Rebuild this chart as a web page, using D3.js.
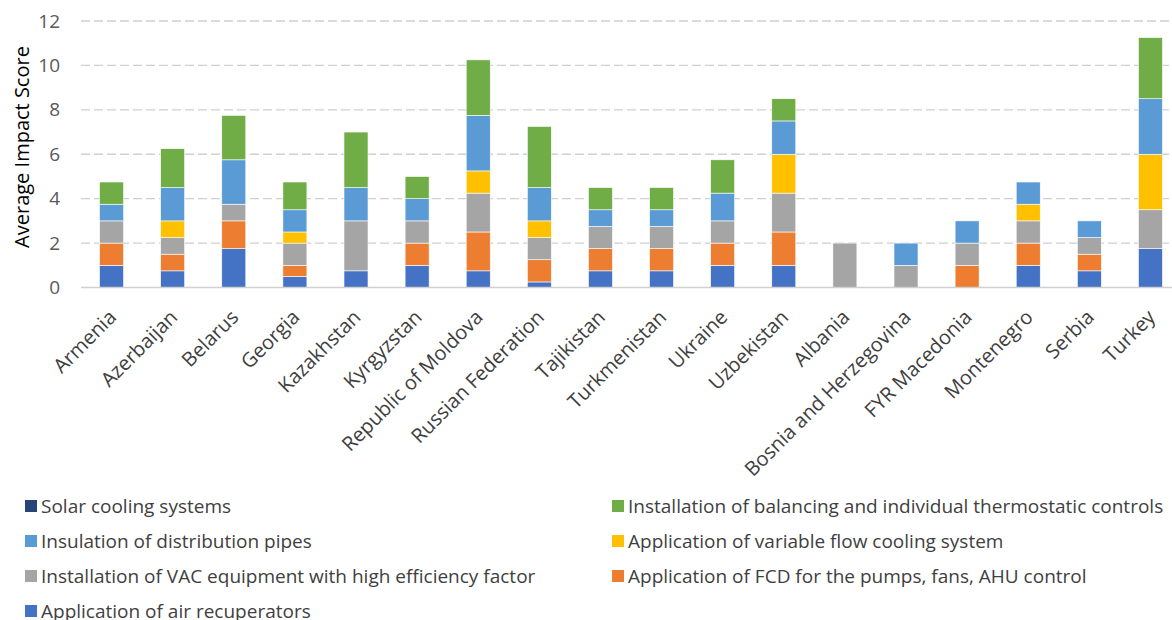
<!DOCTYPE html>
<html>
<head>
<meta charset="utf-8">
<script src="https://cdn.jsdelivr.net/npm/d3@7"></script>
<style>
  body { margin: 0; background: #fff; font-family: "Open Sans", sans-serif; }
</style>
</head>
<body>
<script>
// stacked impact scores per country
var countries = ['Armenia', 'Azerbaijan', 'Belarus', 'Georgia', 'Kazakhstan', 'Kyrgyzstan',
  'Republic of Moldova', 'Russian Federation', 'Tajikistan', 'Turkmenistan', 'Ukraine',
  'Uzbekistan', 'Albania', 'Bosnia and Herzegovina', 'FYR Macedonia', 'Montenegro', 'Serbia', 'Turkey'];

var airRecuperators = [1, 0.75, 1.75, 0.5, 0.75, 1, 0.75, 0.25, 0.75, 0.75, 1, 1, 0, 0, 0, 1, 0.75, 1.75];
var fcdControl      = [1, 0.75, 1.25, 0.5, 0, 1, 1.75, 1, 1, 1, 1, 1.5, 0, 0, 1, 1, 0.75, 0];
var vacEquipment    = [1, 0.75, 0.75, 1, 2.25, 1, 1.75, 1, 1, 1, 1, 1.75, 2, 1, 1, 1, 0.75, 1.75];
var variableFlow    = [0, 0.75, 0, 0.5, 0, 0, 1, 0.75, 0, 0, 0, 1.75, 0, 0, 0, 0.75, 0, 2.5];
var pipeInsulation  = [0.75, 1.5, 2, 1, 1.5, 1, 2.5, 1.5, 0.75, 0.75, 1.25, 1.5, 0, 1, 1, 1, 0.75, 2.5];
var balancing       = [1, 1.75, 2, 1.25, 2.5, 1, 2.5, 2.75, 1, 1, 1.5, 1, 0, 0, 0, 0, 0, 2.75];
var solarCooling    = [0, 0, 0, 0, 0, 0, 0, 0, 0, 0, 0, 0, 0, 0, 0, 0, 0, 0];

var yTicks = [0, 2, 4, 6, 8, 10, 12];

var series = [
  {key: 'air', name: 'Application of air recuperators', values: airRecuperators, color: '#4472C4'},
  {key: 'fcd', name: 'Application of FCD for the pumps, fans, AHU control', values: fcdControl, color: '#ED7D31'},
  {key: 'vac', name: 'Installation of VAC equipment with high efficiency factor', values: vacEquipment, color: '#A5A5A5'},
  {key: 'flow', name: 'Application of variable flow cooling system', values: variableFlow, color: '#FFC000'},
  {key: 'pipe', name: 'Insulation of distribution pipes', values: pipeInsulation, color: '#5B9BD5'},
  {key: 'bal', name: 'Installation of balancing and individual thermostatic controls', values: balancing, color: '#70AD47'},
  {key: 'solar', name: 'Solar cooling systems', values: solarCooling, color: '#264478'}
];

var table = countries.map(function(c, i) {
  var row = {country: c};
  series.forEach(function(s) { row[s.key] = s.values[i]; });
  return row;
});

var width = 1172, height = 620;
var svg = d3.select('body')
  .append('svg')
  .attr('width', width)
  .attr('height', height);

var xScale = d3.scaleBand()
  .domain(countries)
  .range([81, 1181])
  .paddingInner(0.607)
  .paddingOuter(0.3035);

var yScale = d3.scaleLinear()
  .domain([0, 12])
  .range([287.5, 21]);

// gridlines
svg.append('g')
  .selectAll('line')
  .data(yTicks.slice(1))
  .enter()
  .append('line')
  .attr('x1', 81)
  .attr('x2', width)
  .attr('y1', function(d) { return yScale(d); })
  .attr('y2', function(d) { return yScale(d); })
  .attr('stroke', '#d0d0d0')
  .attr('stroke-width', 1.3)
  .attr('stroke-dasharray', '9,4');

// y axis labels only
var yAxis = d3.axisLeft(yScale).tickValues(yTicks).tickSize(0).tickPadding(8);
var yG = svg.append('g')
  .attr('transform', 'translate(68, 0)')
  .call(yAxis);
yG.select('.domain').remove();
yG.selectAll('text')
  .style('font-family', '"Open Sans", sans-serif')
  .style('font-size', '19px')
  .attr('fill', '#595959');

svg.append('text')
  .attr('transform', 'translate(29, 147) rotate(-90)')
  .attr('text-anchor', 'middle')
  .style('font-size', '20px')
  .attr('fill', '#000')
  .text('Average Impact Score');

// stacked bars
var stack = d3.stack().keys(series.map(function(s) { return s.key; }));
var layers = stack(table);

svg.append('g')
  .selectAll('g')
  .data(layers)
  .enter()
  .append('g')
  .attr('fill', function(d, i) { return series[i].color; })
  .selectAll('rect')
  .data(function(d) { return d.filter(function(p) { return p[1] > p[0]; }); })
  .enter()
  .append('rect')
  .attr('x', function(d) { return xScale(d.data.country); })
  .attr('width', xScale.bandwidth())
  .attr('y', function(d) { return yScale(d[1]); })
  .attr('height', function(d) { return yScale(d[0]) - yScale(d[1]); })
  .attr('stroke', '#fff')
  .attr('stroke-width', 0.6);

// baseline
svg.append('line')
  .attr('x1', 81)
  .attr('x2', width)
  .attr('y1', yScale(0))
  .attr('y2', yScale(0))
  .attr('stroke', '#d0d0d0')
  .attr('stroke-width', 1.3);

// category labels
var xAxis = d3.axisBottom(xScale).tickSize(0).tickPadding(0);
var xG = svg.append('g')
  .attr('transform', 'translate(0,' + yScale(0) + ')')
  .call(xAxis);
xG.select('.domain').remove();
xG.selectAll('text')
  .style('font-family', '"Open Sans", sans-serif')
  .style('font-size', '20px')
  .attr('fill', '#404040')
  .attr('text-anchor', 'end')
  .attr('y', 0)
  .attr('dy', '0')
  .attr('transform', 'translate(6, 31) rotate(-45)');

// legend, two columns
var legendOrder = ['solar', 'bal', 'pipe', 'flow', 'vac', 'fcd', 'air'];
var legend = svg.append('g');
legendOrder.forEach(function(k, i) {
  var s = series.filter(function(d) { return d.key === k; })[0];
  var col = i % 2, row = Math.floor(i / 2);
  var lx = col === 0 ? 25 : 612;
  var ly = 506 + row * 35;
  legend.append('rect')
    .attr('x', lx)
    .attr('y', ly - 6)
    .attr('width', 12)
    .attr('height', 12)
    .attr('fill', s.color);
  legend.append('text')
    .attr('x', lx + 16)
    .attr('y', ly)
    .attr('dy', '0.35em')
    .style('font-size', '19px')
    .attr('fill', '#404040')
    .text(s.name);
});
</script>
</body>
</html>
